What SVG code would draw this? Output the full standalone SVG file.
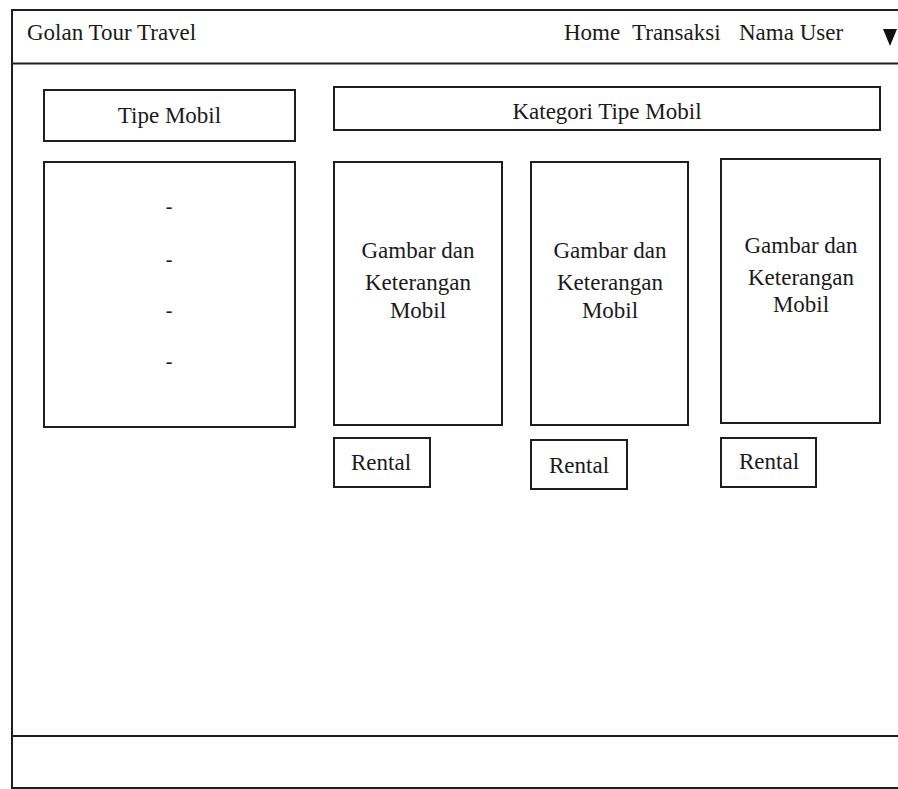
<svg xmlns="http://www.w3.org/2000/svg" width="898" height="789" viewBox="0 0 898 789">
  <style>
    .box { fill: #ffffff; stroke: #1e1e1e; stroke-width: 2; }
    .rule { stroke: #1e1e1e; stroke-width: 2; fill: none; }
    .txt { font-family: "Liberation Serif", "Times New Roman", serif; font-size: 23px; fill: #1a1a1a; }
    .mid { text-anchor: middle; }
    .dash { font-size: 20px; }
  </style>
  <rect x="0" y="0" width="898" height="789" fill="#ffffff"/>

  <!-- page frame with header and footer bands -->
  <g id="frame">
    <path class="rule" d="M 905 10 H 12 V 788 H 905"/>
    <line class="rule" x1="12" y1="63.5" x2="905" y2="63.5"/>
    <line class="rule" x1="12" y1="736" x2="905" y2="736"/>
  </g>

  <!-- navigation bar -->
  <g id="navbar">
    <text class="txt" x="27" y="40">Golan Tour Travel</text>
    <text class="txt" x="564" y="40">Home</text>
    <text class="txt" x="632" y="40">Transaksi</text>
    <text class="txt" x="739" y="40">Nama User</text>
    <polygon points="883,29 897,29 890,46" fill="#111111"/>
  </g>

  <!-- sidebar: car types -->
  <g id="tipe-mobil">
    <rect class="box" x="44" y="90" width="251" height="51"/>
    <text class="txt mid" x="169.5" y="123">Tipe Mobil</text>
  </g>
  <g id="tipe-list">
    <rect class="box" x="44" y="162" width="251" height="265"/>
    <text class="txt mid dash" x="169" y="213">-</text>
    <text class="txt mid dash" x="169" y="266">-</text>
    <text class="txt mid dash" x="169" y="317">-</text>
    <text class="txt mid dash" x="169" y="368">-</text>
  </g>

  <!-- category header -->
  <g id="kategori">
    <rect class="box" x="334" y="87" width="546" height="43"/>
    <text class="txt mid" x="607" y="119">Kategori Tipe Mobil</text>
  </g>

  <!-- car cards -->
  <g id="card-1">
    <rect class="box" x="334" y="162" width="168" height="263"/>
    <text class="txt mid" x="418" y="258">Gambar dan</text>
    <text class="txt mid" x="418" y="290">Keterangan</text>
    <text class="txt mid" x="418" y="318">Mobil</text>
  </g>
  <g id="card-2">
    <rect class="box" x="531" y="162" width="157" height="263"/>
    <text class="txt mid" x="610" y="258">Gambar dan</text>
    <text class="txt mid" x="610" y="290">Keterangan</text>
    <text class="txt mid" x="610" y="318">Mobil</text>
  </g>
  <g id="card-3">
    <rect class="box" x="721" y="159" width="159" height="264"/>
    <text class="txt mid" x="801" y="253">Gambar dan</text>
    <text class="txt mid" x="801" y="285">Keterangan</text>
    <text class="txt mid" x="801" y="312">Mobil</text>
  </g>

  <!-- rental buttons -->
  <g id="rental-1">
    <rect class="box" x="334" y="438" width="96" height="49"/>
    <text class="txt" x="351" y="470">Rental</text>
  </g>
  <g id="rental-2">
    <rect class="box" x="531" y="440" width="96" height="49"/>
    <text class="txt" x="549" y="473">Rental</text>
  </g>
  <g id="rental-3">
    <rect class="box" x="721" y="438" width="95" height="49"/>
    <text class="txt" x="739" y="469">Rental</text>
  </g>

  <!-- no connectors in this layout -->
  <g id="connectors"/>
</svg>
